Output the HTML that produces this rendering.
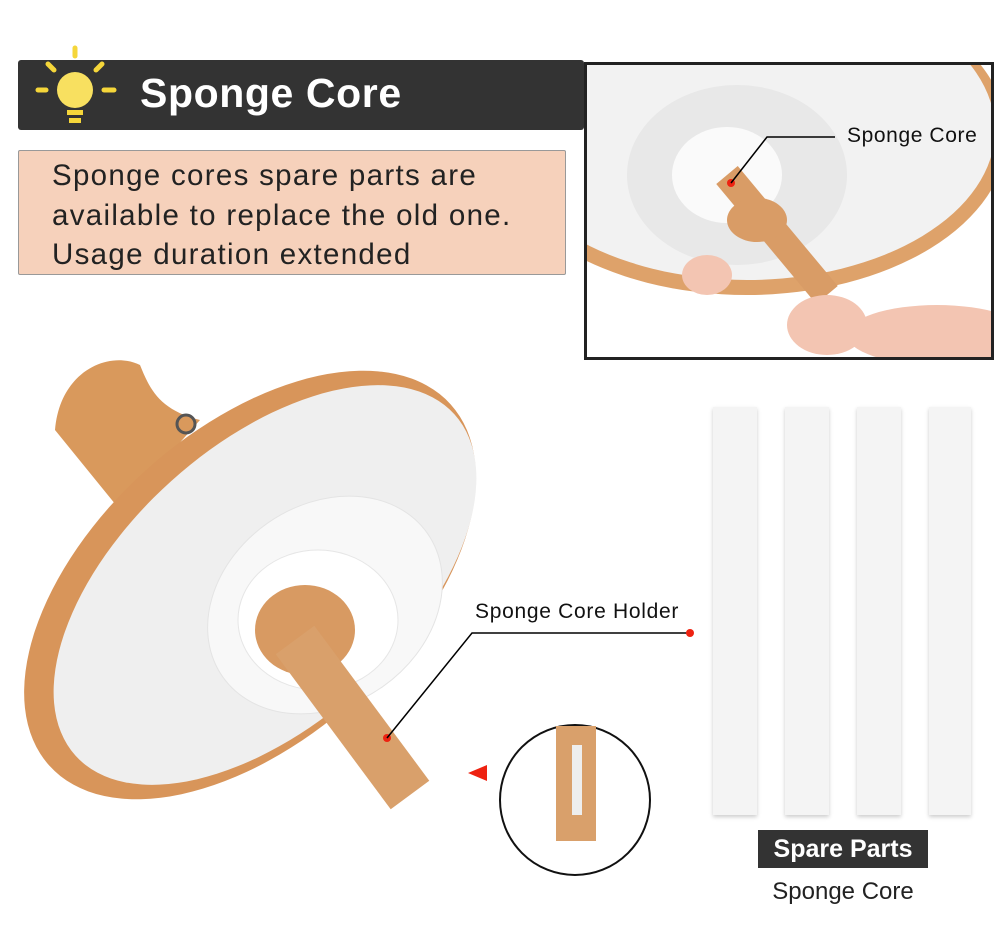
<!DOCTYPE html>
<html><head><meta charset="utf-8"><style>
body{margin:0;width:1000px;height:930px;background:#fff;position:relative;overflow:hidden;font-family:"Liberation Sans",sans-serif}
.a{position:absolute}
</style></head><body>
<div class="a" style="left:18px;top:60px;width:566px;height:70px;background:#333;border-radius:3px"></div>
<svg class="a" style="left:30px;top:40px" width="100" height="100">
<g stroke="#f5d63a" stroke-width="5" stroke-linecap="round">
<line x1="45" y1="8" x2="45" y2="16"/><line x1="8" y1="50" x2="16" y2="50"/><line x1="74" y1="50" x2="84" y2="50"/>
<line x1="18" y1="24" x2="24" y2="30"/><line x1="72" y1="24" x2="66" y2="30"/></g>
<circle cx="45" cy="50" r="18" fill="#f8e060"/>
<rect x="37" y="70" width="16" height="5" fill="#f5d63a"/><rect x="39" y="78" width="12" height="5" fill="#f5d63a"/>
</svg>
<div class="a" style="left:140px;top:70px;color:#fff;font-weight:bold;font-size:41px;letter-spacing:0.6px">Sponge Core</div>
<div class="a" style="left:18px;top:150px;width:546px;height:123px;background:#f6d1bb;border:1px solid #999;border-radius:2px"></div>
<div class="a" style="left:52px;top:156px;font-size:29.5px;line-height:39.5px;color:#222;letter-spacing:1.3px">Sponge cores spare parts are<br>available to replace the old one.<br>Usage duration extended</div>

<div class="a" style="left:584px;top:62px;width:404px;height:292px;border:3px solid #222;background:#fff;overflow:hidden">
<svg width="404" height="292">
<ellipse cx="160" cy="70" rx="260" ry="160" fill="#dea26a"/>
<ellipse cx="160" cy="65" rx="248" ry="150" fill="#f2f2f2"/>
<ellipse cx="150" cy="110" rx="110" ry="90" fill="#e8e8e8"/>
<ellipse cx="140" cy="110" rx="55" ry="48" fill="#fafafa"/>
<line x1="140" y1="110" x2="240" y2="230" stroke="#d99c66" stroke-width="28"/>
<ellipse cx="170" cy="155" rx="30" ry="22" fill="#d99c66"/>
<ellipse cx="350" cy="270" rx="90" ry="30" fill="#f3c5b2"/>
<ellipse cx="240" cy="260" rx="40" ry="30" fill="#f3c5b2"/>
<ellipse cx="120" cy="210" rx="25" ry="20" fill="#f3c5b2"/>
<circle cx="144" cy="118" r="4" fill="#e21"/>
<polyline points="144,118 180,72 248,72" fill="none" stroke="#000" stroke-width="1.5"/>
</svg>
<div class="a" style="left:260px;top:59px;font-size:21px;color:#111;letter-spacing:0.6px">Sponge Core</div>
</div>

<svg class="a" style="left:0;top:340px" width="720" height="590">
<path d="M55,90 C60,30 110,10 140,25 C150,50 160,70 200,80 L120,170 Z" fill="#d9995c"/>
<ellipse cx="250" cy="245" rx="270" ry="155" transform="rotate(-42 250 245)" fill="#d8955a"/>
<ellipse cx="265" cy="245" rx="255" ry="140" transform="rotate(-42 265 245)" fill="#efefef"/>
<circle cx="186" cy="84" r="9" fill="none" stroke="#555" stroke-width="3"/>
<ellipse cx="325" cy="265" rx="125" ry="100" transform="rotate(-35 325 265)" fill="#f8f8f8" stroke="#e4e4e4"/>
<ellipse cx="318" cy="280" rx="80" ry="70" fill="#fff" stroke="#e6e6e6"/>
<ellipse cx="305" cy="290" rx="50" ry="45" fill="#d89a62"/>
<line x1="295" y1="300" x2="410" y2="455" stroke="#d9a06b" stroke-width="48"/>
<circle cx="387" cy="398" r="4" fill="#e21"/>
<polyline points="387,398 472,293 690,293" fill="none" stroke="#000" stroke-width="1.5"/>
<circle cx="690" cy="293" r="4" fill="#e21"/>
<polygon points="468,433 487,425 487,441" fill="#e21"/>
<circle cx="575" cy="460" r="75" fill="#fff" stroke="#111" stroke-width="2"/>
<rect x="556" y="386" width="40" height="115" fill="#d9a06b"/>
<rect x="572" y="405" width="10" height="70" fill="#eee"/>
</svg>
<div class="a" style="left:475px;top:600px;font-size:21px;color:#111;letter-spacing:0.7px">Sponge Core Holder</div>

<div class="a" style="left:713px;top:407px;width:44px;height:408px;background:#f4f4f4;box-shadow:0 2px 4px #ccc"></div>
<div class="a" style="left:785px;top:407px;width:44px;height:408px;background:#f4f4f4;box-shadow:0 2px 4px #ccc"></div>
<div class="a" style="left:857px;top:407px;width:44px;height:408px;background:#f4f4f4;box-shadow:0 2px 4px #ccc"></div>
<div class="a" style="left:929px;top:407px;width:42px;height:408px;background:#f4f4f4;box-shadow:0 2px 4px #ccc"></div>
<div class="a" style="left:758px;top:830px;width:170px;height:38px;background:#333;color:#fff;font-weight:bold;font-size:25px;line-height:38px;text-align:center">Spare Parts</div>
<div class="a" style="left:758px;top:878px;width:170px;text-align:center;font-size:24px;color:#222">Sponge Core</div>
</body></html>
